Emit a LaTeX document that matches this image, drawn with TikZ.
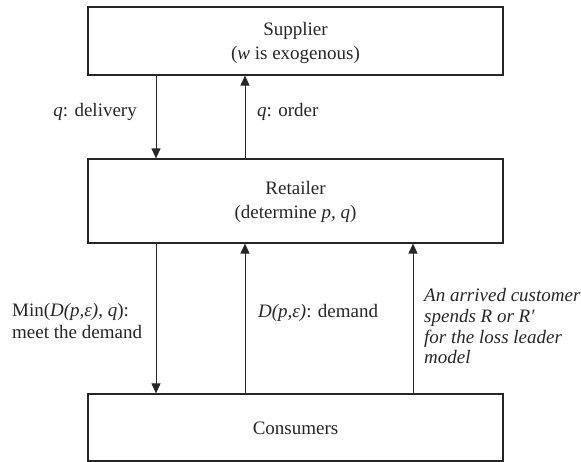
\documentclass[tikz,border=0pt]{standalone}
\usepackage{fontspec}
\setmainfont{Liberation Serif}
\usetikzlibrary{arrows.meta}
\definecolor{ink}{HTML}{262626}
\begin{document}
\begin{tikzpicture}[x=1pt,y=-1pt,
  box/.style={draw=ink, line width=1.2pt, rectangle, minimum width=415pt, inner sep=0pt},
  txt/.style={font=\fontsize{19}{24}\selectfont, text=ink, inner sep=0pt},
  arr/.style={draw=ink, line width=1pt, -{Triangle[length=10pt,width=9pt]}}]
\useasboundingbox (0,0) rectangle (581,462);
% boxes
\node[box, minimum height=68pt] (sup) at (295.5,41) {};
\node[box, minimum height=84pt] (ret) at (295.5,201) {};
\node[box, minimum height=67pt] (con) at (295.5,427.5) {};
% box texts
\node[txt, anchor=base] (supA) at (295.5,36) {Supplier};
\node[txt, anchor=base] (supB) at (295.5,60) {(\textit{w} is exogenous)};
\node[txt, anchor=base] (retA) at (295.5,195) {Retailer};
\node[txt, anchor=base] (retB) at (295.5,219) {(determine \textit{p}, \textit{q})};
\node[txt, anchor=base] (conA) at (295.5,434) {Consumers};
% connector columns
\coordinate (xa) at (156,0);
\coordinate (xb) at (245,0);
\coordinate (xc) at (413,0);
\draw[arr] (sup.south -| xa) -- (ret.north -| xa);
\draw[arr] (ret.north -| xb) -- (sup.south -| xb);
\draw[arr] (ret.south -| xa) -- (con.north -| xa);
\draw[arr] (con.north -| xb) -- (ret.south -| xb);
\draw[arr] (con.north -| xc) -- (ret.south -| xc);
% labels
\node[txt, anchor=base east] (l1) at (137,117) {\textit{q}: delivery};
\node[txt, anchor=base west] (l2) at (257,117) {\textit{q}: order};
\node[txt, anchor=base west] (l3a) at (12,317) {Min(\textit{D(p,ε)}, \textit{q}):};
\node[txt, anchor=base west] (l3b) at (12,338) {meet the demand};
\node[txt, anchor=base west] (l4) at (258,318) {\textit{D(p,ε)}: demand};
\node[txt, anchor=base west] (l5a) at (424,302) {\textit{An arrived customer}};
\node[txt, anchor=base west] (l5b) at (424,323) {\textit{spends R or R′}};
\node[txt, anchor=base west] (l5c) at (424,343) {\textit{for the loss leader}};
\node[txt, anchor=base west] (l5d) at (424,363) {\textit{model}};
\end{tikzpicture}
\end{document}
